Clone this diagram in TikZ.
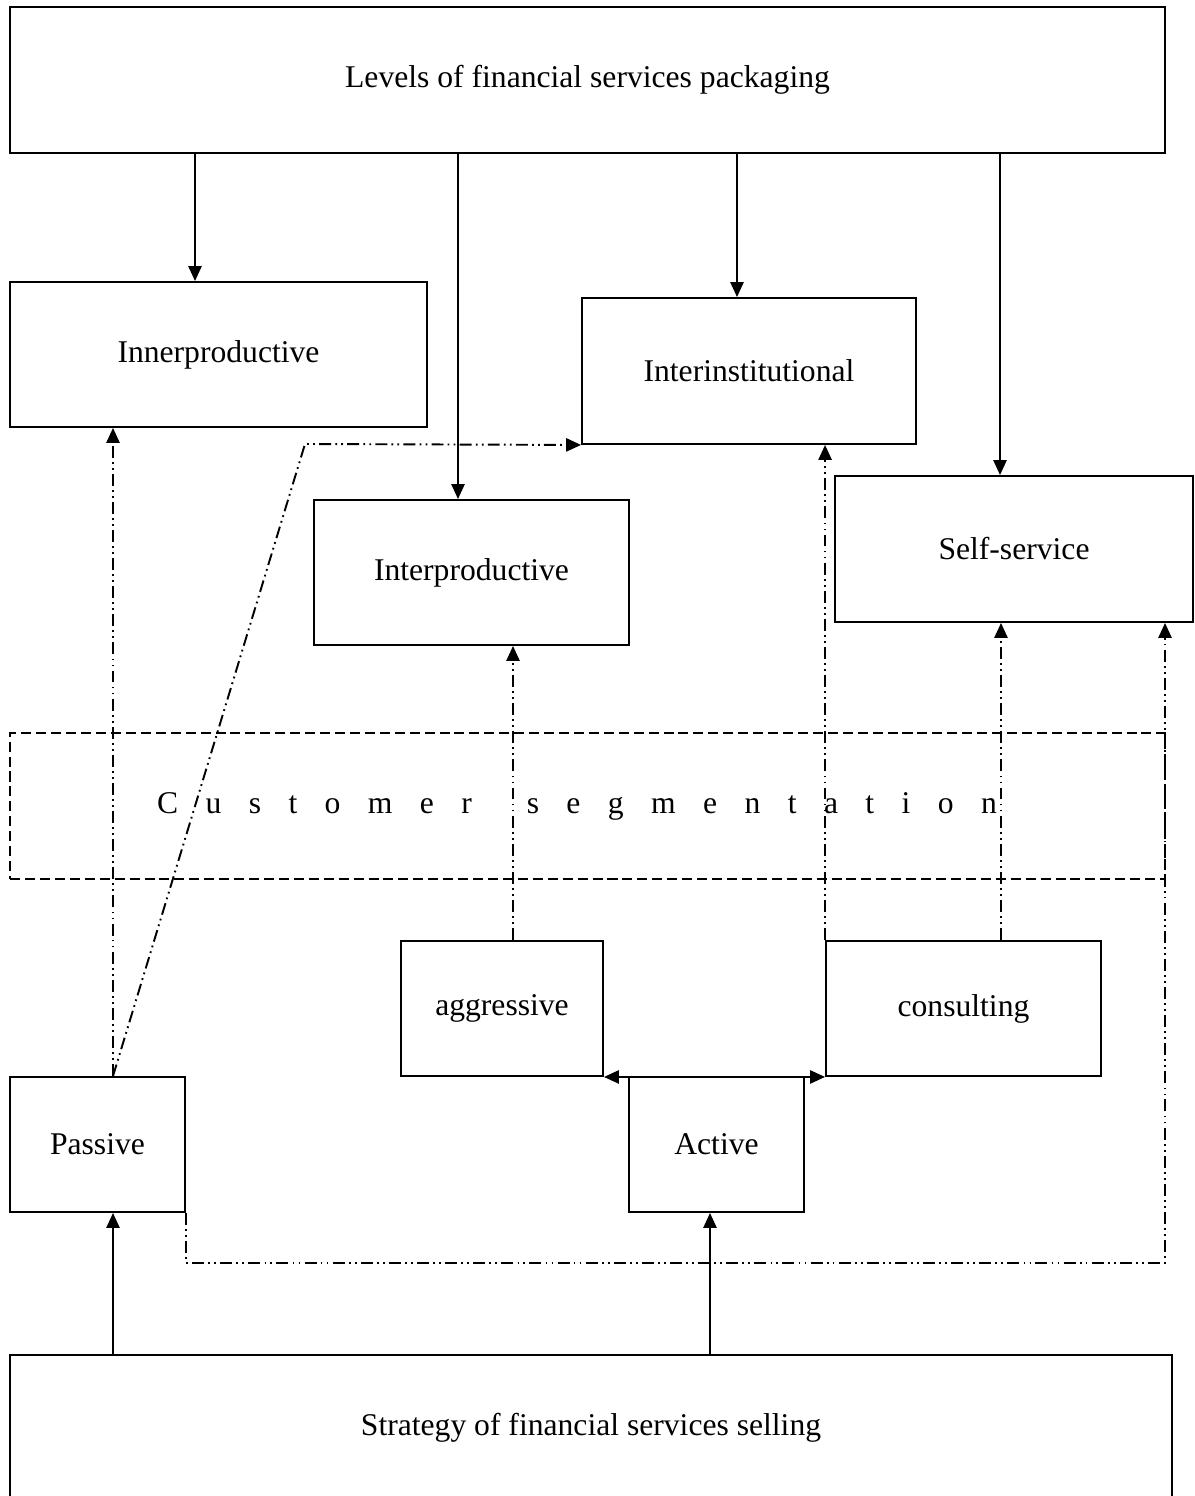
\documentclass[tikz,border=0pt]{standalone}
\usepackage{fontspec}
\setmainfont{Liberation Serif}
\usetikzlibrary{arrows.meta}

\tikzset{
  box/.style={draw, line width=1.1pt, rectangle, inner sep=0pt, font=\fontsize{18}{22}\selectfont},
  link/.style={line width=1.1pt, -{Triangle[length=8.5pt,width=7.5pt]}},
  dashdot/.style={line width=1.1pt, dash pattern=on 6.8pt off 2.4pt on 1pt off 2.4pt on 1pt off 2.4pt,
    -{Triangle[length=8.5pt,width=7.5pt]}},
}

\begin{document}
\begin{tikzpicture}[x=0.02cm, y=-0.02cm]
    \useasboundingbox (0,0) rectangle (1195,1496);

    % Draw the boxes
    \node[box, minimum width=23.1cm, minimum height=2.92cm] (levels) at (587.5,80) {Levels of financial services packaging};
    \node[box, minimum width=8.34cm, minimum height=2.9cm] (inner) at (218.5,354.5) {Innerproductive};
    \node[box, minimum width=6.68cm, minimum height=2.92cm] (interinst) at (749,371) {Interinstitutional};
    \node[box, minimum width=6.3cm, minimum height=2.9cm] (interprod) at (471.5,572.5) {Interproductive};
    \node[box, minimum width=7.16cm, minimum height=2.92cm] (self) at (1014,549) {Self-service};
    \node[box, dash pattern=on 5.7pt off 2.8pt, minimum width=23.1cm, minimum height=2.92cm] (segm) at (587.5,806) {};
    \node[font=\fontsize{18}{22}\selectfont] (segmtext) at (577,806)
      {\spaceskip=15.6pt C u s t o m e r\hspace{15.6pt} s e g m e n t a t i o n};
    \node[box, minimum width=4.04cm, minimum height=2.7cm] (aggr) at (502,1008.5) {aggressive};
    \node[box, minimum width=5.5cm, minimum height=2.7cm] (consult) at (963.5,1008.5) {consulting};
    \node[box, minimum width=3.5cm, minimum height=2.7cm] (passive) at (97.5,1144.5) {Passive};
    \node[box, minimum width=3.5cm, minimum height=2.7cm] (active) at (716.5,1144.5) {Active};
    \node[box, minimum width=23.24cm, minimum height=2.92cm] (strategy) at (591,1428) {Strategy of financial services selling};

    % Helper points
    \coordinate (bend) at (305,444);
    \coordinate (loop) at (1165,1263);

    % Draw arrows from the packaging levels
    \draw[link] (levels.south -| 195,0) -- (inner.north -| 195,0);
    \draw[link] (levels.south -| 458,0) -- (interprod.north -| 458,0);
    \draw[link] (levels.south -| 737,0) -- (interinst.north -| 737,0);
    \draw[link] (levels.south -| 1000,0) -- (self.north -| 1000,0);

    % Draw arrows from the selling strategy
    \draw[link] (strategy.north -| 113,0) -- (passive.south -| 113,0);
    \draw[link] (strategy.north -| 710,0) -- (active.south -| 710,0);
    \draw[line width=1.1pt, {Triangle[length=8.5pt,width=7.5pt]}-{Triangle[length=8.5pt,width=7.5pt]}]
      (aggr.south east) -- (consult.south west);

    % Draw dash-dot arrows
    \draw[dashdot] (passive.north -| 113,0) -- (inner.south -| 113,0);
    \draw[dashdot] (passive.north -| 113,0) -- (bend) -- (interinst.south west);
    \draw[dashdot] (aggr.north -| 513,0) -- (interprod.south -| 513,0);
    \draw[dashdot] (consult.north west) -- (interinst.south -| consult.north west);
    \draw[dashdot] (consult.north -| 1001,0) -- (self.south -| 1001,0);
    \draw[dashdot] (passive.south east) |- (loop) -- (self.south -| loop);
\end{tikzpicture}
\end{document}
